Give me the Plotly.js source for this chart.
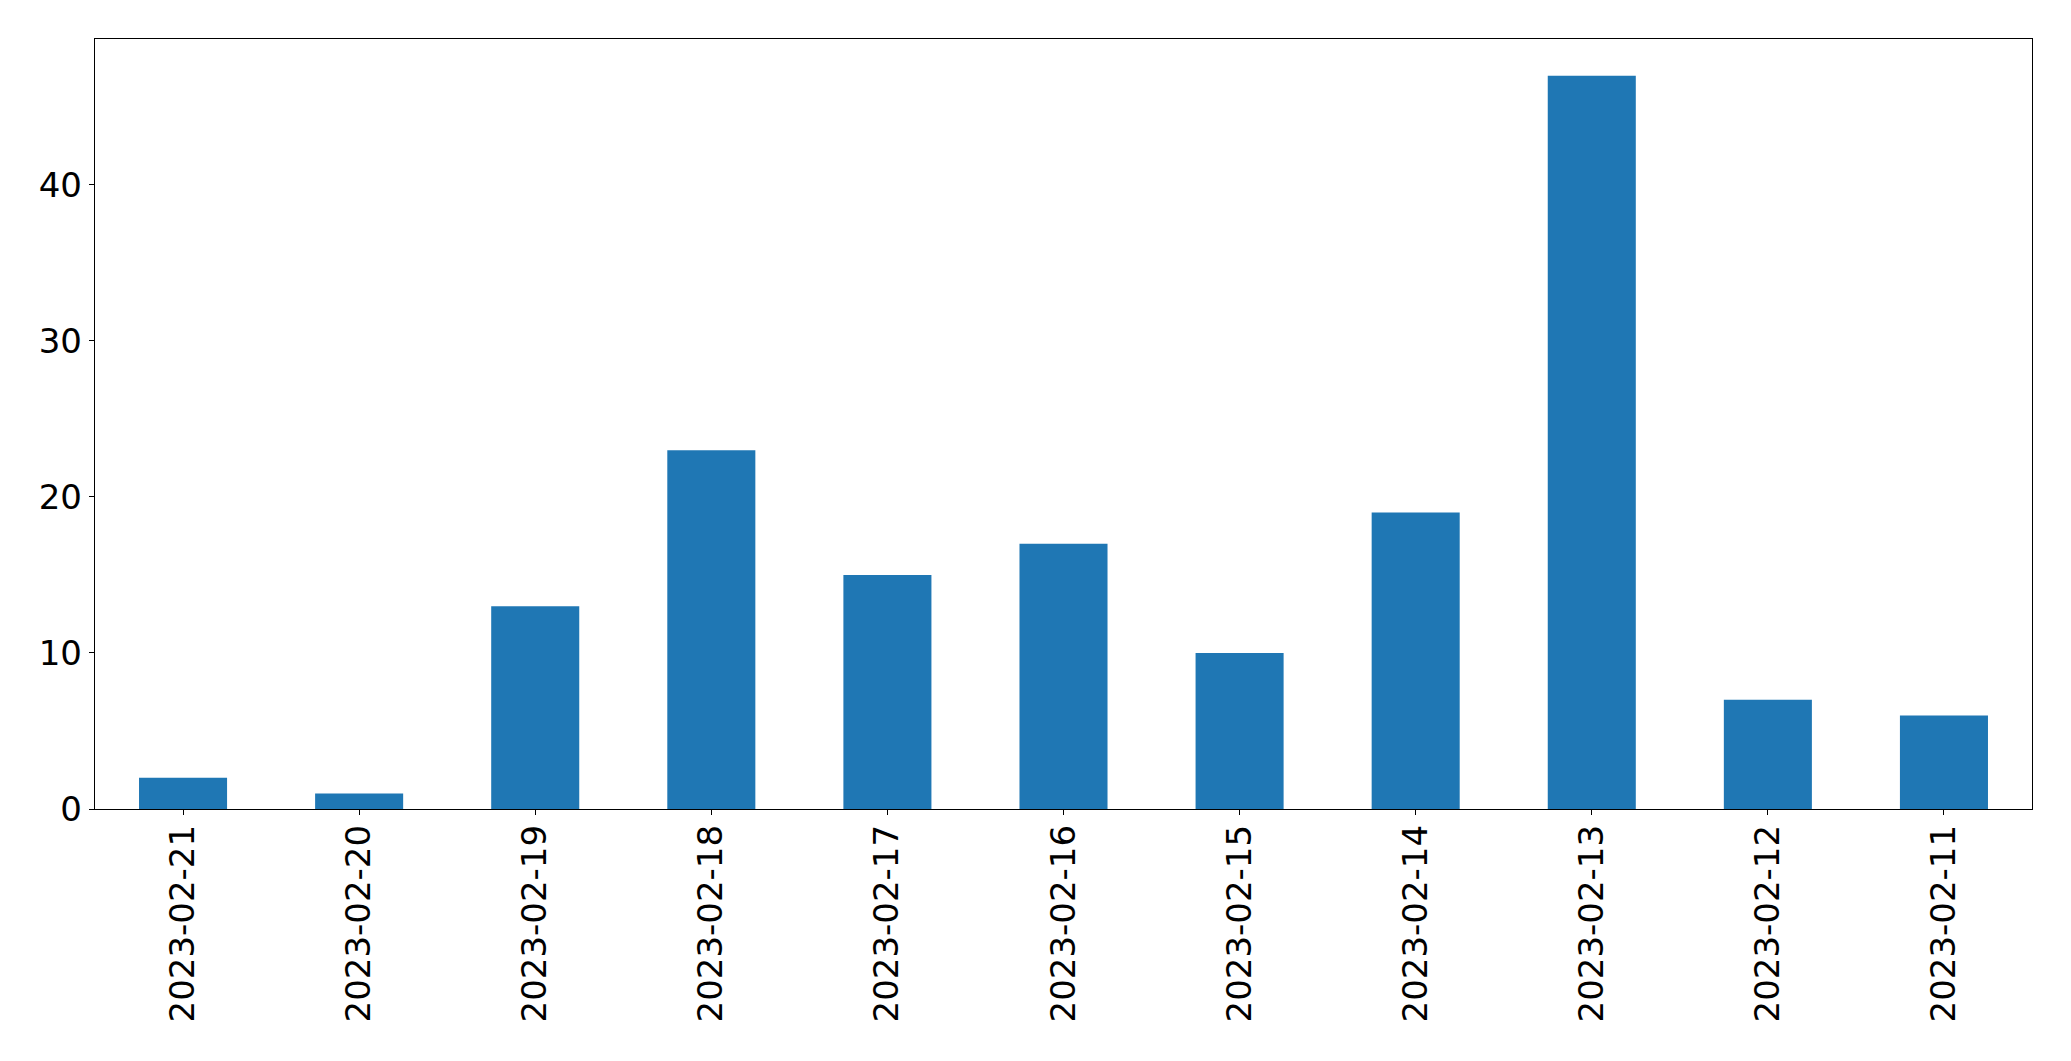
<!DOCTYPE html>
<html>
<head>
<meta charset="utf-8">
<script src="https://cdn.plot.ly/plotly-3.0.1.min.js"></script>
<style>html,body{margin:0;padding:0;background:#fff;}#chart{width:2071px;height:1061px;}</style>
</head>
<body>
<div id="chart"></div>
<script>
const dates = ["2023-02-21","2023-02-20","2023-02-19","2023-02-18","2023-02-17","2023-02-16","2023-02-15","2023-02-14","2023-02-13","2023-02-12","2023-02-11"];
const counts = [2, 1, 13, 23, 15, 17, 10, 19, 47, 7, 6];
const yTicks = [0, 10, 20, 30, 40];

const trace = {
  type: 'bar',
  x: dates,
  y: counts,
  marker: {color: '#1f77b4', line: {width: 0}},
  hoverinfo: 'x+y'
};

const font = {family: 'DejaVu Sans, sans-serif', size: 34, color: '#000'};

const layout = {
  width: 2071,
  height: 1061,
  margin: {l: 95, r: 39, t: 39, b: 252, pad: 0},
  paper_bgcolor: '#fff',
  plot_bgcolor: '#fff',
  showlegend: false,
  bargap: 0.5,
  font: font,
  xaxis: {
    type: 'category',
    range: [-0.5, dates.length - 0.5],
    tickangle: -90,
    ticks: 'outside',
    ticklen: 5,
    tickwidth: 1,
    tickcolor: '#000',
    ticklabelstandoff: -4,
    showline: true,
    linecolor: '#000',
    linewidth: 1.3,
    mirror: true,
    showgrid: false,
    zeroline: false,
    tickfont: font
  },
  yaxis: {
    range: [0, 49.35],
    tickvals: yTicks,
    ticktext: yTicks.map(String),
    ticks: 'outside',
    ticklen: 5,
    tickwidth: 1,
    tickcolor: '#000',
    showline: true,
    linecolor: '#000',
    linewidth: 1.3,
    mirror: true,
    showgrid: false,
    zeroline: false,
    tickfont: font
  }
};

Plotly.newPlot('chart', [trace], layout, {displayModeBar: false, staticPlot: true});
</script>
</body>
</html>
